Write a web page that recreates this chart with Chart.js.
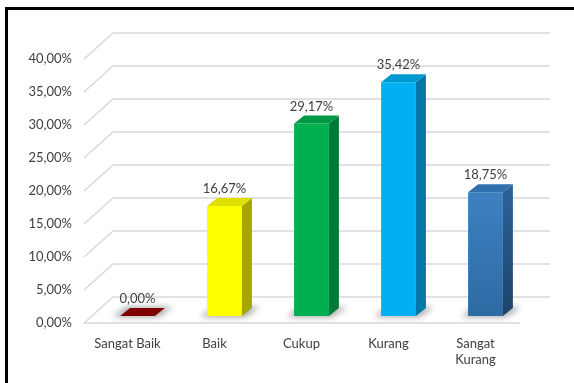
<!DOCTYPE html>
<html>
<head>
<meta charset="utf-8">
<script src="https://cdn.jsdelivr.net/npm/chart.js@4.4.0/dist/chart.umd.min.js"></script>
<style>
  html, body { margin: 0; padding: 0; background: #fff; }
  #wrap { position: relative; width: 574px; height: 383px; overflow: hidden; }
  #wrap::before {
    content: ""; position: absolute; left: 5px; top: 7px; right: -10px; bottom: -10px;
    border-left: 3px solid #000; border-top: 3px solid #000;
  }
  canvas { position: absolute; left: 0; top: 0; }
</style>
</head>
<body>
<div id="wrap"><canvas id="nilaiChart" width="574" height="383"></canvas></div>
<script>
const kategori = ["Sangat Baik", "Baik", "Cukup", "Kurang", ["Sangat", "Kurang"]];
const persentase = [0, 16.67, 29.17, 35.42, 18.75];
const batasY = [0, 40];
const langkahY = 5;

const warnaDepan = ["#7f0000", "#ffff00", "#00b050", "#00b0f0", ["#4b9be2", "#2e6aa4"]];
const warnaSamping = ["#5a0000", "#a6a600", "#007a38", "#0077a6", ["#2b6197", "#1e4469"]];
const warnaAtas = ["#7f0000", "#e0e000", "#009a46", "#009ad2", "#2f6fab"];

const DX = 10, DY = 8; // kedalaman balok
const font = { family: "Lato", size: 13 };

const formatPersen = (v) => Number(v).toFixed(2).replace(".", ",") + "%";

function isiWarna(ctx, warna, atas, bawah) {
    if (!Array.isArray(warna)) return warna;
    const g = ctx.createLinearGradient(0, atas, 0, bawah);
    g.addColorStop(0, warna[0]);
    g.addColorStop(1, warna[1]);
    return g;
}

const efek3D = {
    id: "efek3D",
    beforeDatasetsDraw(chart) {
        const { ctx, chartArea: a, scales: { y } } = chart;
        ctx.save();
        ctx.strokeStyle = "#d9d9d9";
        ctx.lineWidth = 1.5;
        y.ticks.forEach((t) => {
            const yb = y.getPixelForValue(t.value);
            const yDepan = yb + 7;
            const yBelakang = yb - 19;
            ctx.beginPath();
            ctx.moveTo(a.left - 10, yDepan);
            ctx.lineTo(a.left + 19, yBelakang);
            ctx.lineTo(a.right + 21, yBelakang);
            if (t.value === batasY[0]) {
                ctx.moveTo(a.left - 10, yDepan);
                ctx.lineTo(a.right - 9, yDepan);
            }
            ctx.stroke();
        });

        // bayangan di lantai
        chart.getDatasetMeta(0).data.forEach((bar) => {
            const l = bar.x - bar.width / 2, r = bar.x + bar.width / 2, b = bar.base;
            ctx.save();
            ctx.filter = "blur(3px)";
            ctx.fillStyle = "rgba(0,0,0,0.35)";
            ctx.beginPath();
            ctx.moveTo(l - 7, b + 1);
            ctx.lineTo(r + 3, b + 1);
            ctx.lineTo(r + DX + 8, b - DY - 1);
            ctx.lineTo(l + DX - 4, b - DY - 1);
            ctx.closePath();
            ctx.fill();
            ctx.restore();
        });
        ctx.restore();
    },
    afterDatasetsDraw(chart) {
        const { ctx } = chart;
        ctx.save();
        chart.getDatasetMeta(0).data.forEach((bar, i) => {
            const l = bar.x - bar.width / 2, r = bar.x + bar.width / 2;
            const t = bar.y, b = bar.base;
            // sisi samping
            if (b - t > 0.5) {
                ctx.fillStyle = isiWarna(ctx, warnaSamping[i], t, b);
                ctx.beginPath();
                ctx.moveTo(r, t);
                ctx.lineTo(r + DX, t - DY);
                ctx.lineTo(r + DX, b - DY);
                ctx.lineTo(r, b);
                ctx.closePath();
                ctx.fill();
            }
            // sisi atas
            ctx.fillStyle = warnaAtas[i];
            ctx.beginPath();
            ctx.moveTo(l, t);
            ctx.lineTo(r, t);
            ctx.lineTo(r + DX, t - DY);
            ctx.lineTo(l + DX, t - DY);
            ctx.closePath();
            ctx.fill();

            // label data
            ctx.fillStyle = "#404040";
            ctx.font = font.size + "px " + font.family;
            ctx.textAlign = "center";
            ctx.textBaseline = "middle";
            ctx.fillText(formatPersen(persentase[i]), bar.x, t - 17);
        });
        ctx.restore();
    },
};

new Chart(document.getElementById("nilaiChart"), {
    type: "bar",
    data: {
        labels: kategori,
        datasets: [
            {
                label: "Persentase",
                data: persentase,
                backgroundColor: (c) => {
                    const area = c.chart.chartArea;
                    if (!area) return "#999";
                    return isiWarna(c.chart.ctx, warnaDepan[c.dataIndex], area.top, area.bottom);
                },
                borderWidth: 0,
                barPercentage: 0.4,
                categoryPercentage: 1,
            },
        ],
    },
    options: {
        responsive: false,
        animation: false,
        layout: { padding: { top: 52, right: 45, left: 0, bottom: 0 } },
        plugins: {
            legend: { display: false },
            tooltip: { enabled: false },
        },
        scales: {
            x: {
                grid: { display: false, drawTicks: false },
                border: { display: false },
                ticks: {
                    color: "#404040",
                    font: font,
                    padding: 20,
                    labelOffset: -10,
                    maxRotation: 0,
                    autoSkip: false,
                },
                afterFit: (s) => { s.height = 67; },
            },
            y: {
                min: batasY[0],
                max: batasY[1],
                grid: { display: false, drawTicks: false },
                border: { display: false },
                ticks: {
                    stepSize: langkahY,
                    color: "#404040",
                    font: font,
                    padding: 22,
                    labelOffset: 7,
                    callback: (v) => formatPersen(v),
                },
                afterFit: (s) => { s.width = 94; },
            },
        },
    },
    plugins: [efek3D],
});
</script>
</body>
</html>
